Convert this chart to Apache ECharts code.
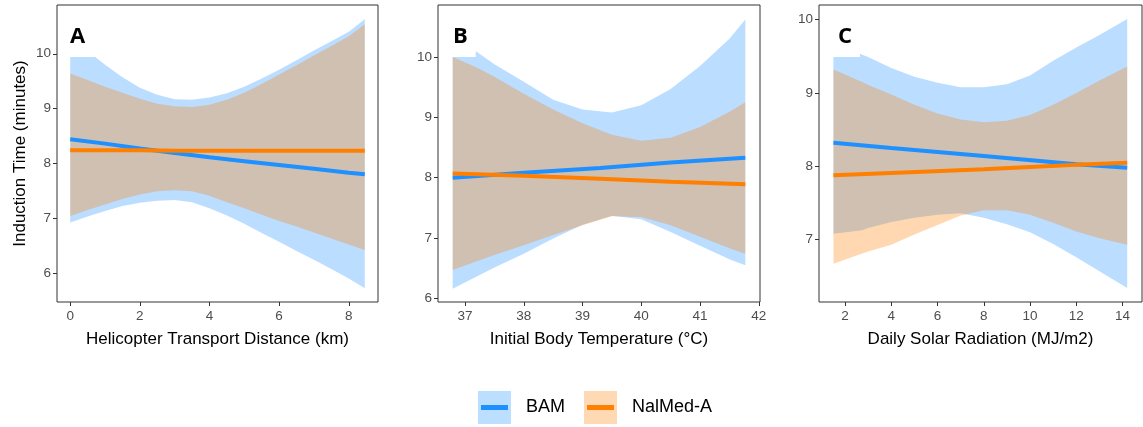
<!DOCTYPE html>
<html>
<head>
<meta charset="utf-8">
<script src="https://cdn.jsdelivr.net/npm/echarts@6/dist/echarts.min.js"></script>
<style>
  html, body { margin: 0; padding: 0; background: #fff; }
  #chart { width: 1143px; height: 427px; }
</style>
</head>
<body>
<div id="chart"></div>
<script>
// panel A - helicopter transport distance (km)
var distX = [0, 0.5, 1, 1.5, 2, 2.5, 3, 3.5, 4, 4.5, 5, 5.5, 6, 6.5, 7, 7.5, 8, 8.46];
var distBamLow = [6.92, 7.03, 7.13, 7.22, 7.28, 7.32, 7.33, 7.29, 7.18, 7.05, 6.90, 6.73, 6.57, 6.40, 6.24, 6.07, 5.90, 5.72];
var distBamHigh = [10.35, 10.05, 9.80, 9.57, 9.38, 9.25, 9.17, 9.16, 9.20, 9.28, 9.40, 9.55, 9.71, 9.88, 10.06, 10.23, 10.40, 10.63];
var distNalLow = [7.04, 7.15, 7.25, 7.35, 7.43, 7.49, 7.51, 7.49, 7.41, 7.29, 7.18, 7.06, 6.95, 6.85, 6.74, 6.63, 6.52, 6.42];
var distNalHigh = [9.64, 9.52, 9.40, 9.29, 9.18, 9.09, 9.04, 9.03, 9.07, 9.16, 9.29, 9.45, 9.62, 9.79, 9.97, 10.14, 10.32, 10.54];
var distLineX = [0, 1, 2, 3, 4, 5, 6, 7, 8, 8.46];
var distBamLine = [8.44, 8.36, 8.27, 8.19, 8.11, 8.04, 7.97, 7.90, 7.83, 7.80];
var distNalLine = [8.24, 8.24, 8.24, 8.23, 8.23, 8.23, 8.23, 8.23, 8.23, 8.23];

// panel B - initial body temperature (°C)
var tempX = [36.79, 37.19, 37.5, 38, 38.5, 39, 39.5, 40, 40.5, 41, 41.5, 41.77];
var tempBamLow = [6.16, 6.36, 6.51, 6.74, 6.99, 7.22, 7.37, 7.31, 7.10, 6.87, 6.65, 6.55];
var tempBamHigh = [10.35, 10.09, 9.88, 9.59, 9.29, 9.13, 9.08, 9.20, 9.47, 9.85, 10.30, 10.62];
var tempNalLow = [6.47, 6.61, 6.72, 6.88, 7.05, 7.21, 7.36, 7.35, 7.21, 7.02, 6.83, 6.74];
var tempNalHigh = [10.00, 9.83, 9.67, 9.39, 9.13, 8.90, 8.71, 8.61, 8.66, 8.84, 9.09, 9.25];
var tempLineX = [36.79, 38, 39.3, 40.5, 41.77];
var tempBamLine = [8.00, 8.08, 8.16, 8.25, 8.33];
var tempNalLine = [8.07, 8.03, 7.98, 7.93, 7.89];

// panel C - daily solar radiation (MJ/m2)
var solarX = [1.5, 2.74, 3, 4, 5, 6, 7, 8, 9, 10, 11, 12, 13, 14.2];
var solarBamLow = [7.08, 7.13, 7.16, 7.24, 7.30, 7.34, 7.36, 7.30, 7.21, 7.10, 6.94, 6.76, 6.57, 6.34];
var solarBamHigh = [9.75, 9.52, 9.49, 9.34, 9.22, 9.14, 9.08, 9.08, 9.12, 9.24, 9.44, 9.62, 9.79, 10.01];
var solarNalLow = [6.67, 6.81, 6.84, 6.93, 7.07, 7.20, 7.33, 7.40, 7.40, 7.34, 7.23, 7.11, 7.02, 6.93];
var solarNalHigh = [9.32, 9.15, 9.11, 8.98, 8.84, 8.72, 8.64, 8.60, 8.62, 8.70, 8.84, 9.00, 9.17, 9.36];
var solarLineX = [1.5, 4, 8, 12, 14.2];
var solarBamLine = [8.32, 8.25, 8.14, 8.03, 7.98];
var solarNalLine = [7.88, 7.91, 7.96, 8.02, 8.05];

// tick labels
var distTicks = [0, 2, 4, 6, 8];
var tempTicks = [37, 38, 39, 40, 41, 42];
var solarTicks = [2, 4, 6, 8, 10, 12, 14];
var yTicksAB = [6, 7, 8, 9, 10];
var yTicksC = [7, 8, 9, 10];

var groups = ['BAM', 'NalMed-A'];
var BLUE = '#1E90FF';
var ORANGE = '#FF7F00';
var FONT = 'Liberation Sans, Arial, sans-serif';

var chart = echarts.init(document.getElementById('chart'));

// confidence ribbon: one polygon, upper edge left->right then lower edge back
function band(gi, name, color, xs, lo, hi) {
    return {
        name: name, type: 'custom', xAxisIndex: gi, yAxisIndex: gi,
        silent: true, z: 1,
        itemStyle: { color: color },
        encode: { x: 0, y: [1, 2] },
        data: xs.map(function (x, i) { return [x, lo[i], hi[i]]; }),
        renderItem: function (params, api) {
            if (params.dataIndex !== 0) return;
            var pts = [];
            for (var i = 0; i < xs.length; i++) pts.push(api.coord([xs[i], hi[i]]));
            for (var j = xs.length - 1; j >= 0; j--) pts.push(api.coord([xs[j], lo[j]]));
            return {
                type: 'polygon',
                shape: { points: pts },
                style: { fill: color, opacity: 0.3 }
            };
        }
    };
}

function fitLine(gi, name, color, xs, ys) {
    return {
        name: name, type: 'line', xAxisIndex: gi, yAxisIndex: gi,
        symbol: 'none', silent: true, z: 3,
        itemStyle: { color: color },
        lineStyle: { color: color, width: 4 },
        data: xs.map(function (x, i) { return [x, ys[i]]; })
    };
}

function xAx(gi, min, max, ticks, name) {
    return {
        type: 'value', gridIndex: gi, min: min, max: max,
        name: name, nameLocation: 'middle', nameGap: 29,
        nameTextStyle: { color: '#000', fontSize: 17, fontFamily: FONT },
        axisLine: { show: false, onZero: false },
        axisTick: { show: true, length: 4, lineStyle: { color: '#333' }, customValues: ticks },
        axisLabel: { color: '#4d4d4d', fontSize: 13.5, fontFamily: FONT, margin: 7, customValues: ticks },
        splitLine: { show: false }
    };
}

function yAx(gi, min, max, ticks, name) {
    return {
        type: 'value', gridIndex: gi, min: min, max: max,
        name: name || '', nameLocation: 'middle', nameGap: 28,
        nameTextStyle: { color: '#000', fontSize: 17, fontFamily: FONT },
        axisLine: { show: false, onZero: false },
        axisTick: { show: true, length: 4, lineStyle: { color: '#333' }, customValues: ticks },
        axisLabel: { color: '#4d4d4d', fontSize: 13.5, fontFamily: FONT, margin: 6, customValues: ticks },
        splitLine: { show: false }
    };
}

function panelTitle(text, left, padding) {
    return {
        text: text, left: left, top: 8, padding: padding,
        backgroundColor: '#fff',
        textStyle: { fontSize: 22, fontWeight: 'bold', color: '#000', fontFamily: 'Open Sans, sans-serif' }
    };
}

var gridBase = { top: 5, bottom: 125, show: true, borderColor: '#333', borderWidth: 1 };

var series = [
    band(0, groups[0], BLUE, distX, distBamLow, distBamHigh),
    band(0, groups[1], ORANGE, distX, distNalLow, distNalHigh),
    band(1, groups[0], BLUE, tempX, tempBamLow, tempBamHigh),
    band(1, groups[1], ORANGE, tempX, tempNalLow, tempNalHigh),
    band(2, groups[0], BLUE, solarX, solarBamLow, solarBamHigh),
    band(2, groups[1], ORANGE, solarX, solarNalLow, solarNalHigh),
    fitLine(0, groups[0], BLUE, distLineX, distBamLine),
    fitLine(0, groups[1], ORANGE, distLineX, distNalLine),
    fitLine(1, groups[0], BLUE, tempLineX, tempBamLine),
    fitLine(1, groups[1], ORANGE, tempLineX, tempNalLine),
    fitLine(2, groups[0], BLUE, solarLineX, solarBamLine),
    fitLine(2, groups[1], ORANGE, solarLineX, solarNalLine)
];

var legendBase = {
    left: 478, top: 391, padding: 0, orient: 'horizontal',
    itemWidth: 33, itemHeight: 33, itemGap: 19, selectedMode: false,
    formatter: function (name) { return '  ' + name; },
    textStyle: { fontSize: 18, fontFamily: FONT, color: '#000' }
};
var barIcon = 'path://M0,0 L0,0 M3,14 L30,14 L30,19 L3,19 Z M33,33 L33,33';

var option = {
    animation: false,
    backgroundColor: '#fff',
    title: [
        panelTitle('A', 60, [18, 10, 9, 10]),
        panelTitle('B', 445, [18, 8, 9, 8]),
        panelTitle('C', 828, [18, 8, 9, 10])
    ],
    grid: [
        Object.assign({ left: 57, right: 765 }, gridBase),
        Object.assign({ left: 438, right: 383 }, gridBase),
        Object.assign({ left: 819, right: 1 }, gridBase)
    ],
    xAxis: [
        xAx(0, -0.38, 8.84, distTicks, 'Helicopter Transport Distance (km)'),
        xAx(1, 36.54, 42.02, tempTicks, 'Initial Body Temperature (°C)'),
        xAx(2, 0.875, 14.84, solarTicks, 'Daily Solar Radiation (MJ/m2)')
    ],
    yAxis: [
        yAx(0, 5.47, 10.89, yTicksAB, 'Induction Time (minutes)'),
        yAx(1, 5.94, 10.86, yTicksAB),
        yAx(2, 6.15, 10.2, yTicksC)
    ],
    legend: [
        Object.assign({}, legendBase, {
            z: 4,
            data: [
                { name: groups[0], icon: 'rect', itemStyle: { color: '#BCDEFF', borderWidth: 0 } },
                { name: groups[1], icon: 'rect', itemStyle: { color: '#FFD9B3', borderWidth: 0 } }
            ]
        }),
        Object.assign({}, legendBase, {
            z: 5,
            textStyle: { fontSize: 18, fontFamily: FONT, color: 'rgba(0,0,0,0)' },
            data: [
                { name: groups[0], icon: barIcon, itemStyle: { color: BLUE, borderWidth: 0 } },
                { name: groups[1], icon: barIcon, itemStyle: { color: ORANGE, borderWidth: 0 } }
            ]
        })
    ],
    series: series
};

chart.setOption(option);
</script>
</body>
</html>
